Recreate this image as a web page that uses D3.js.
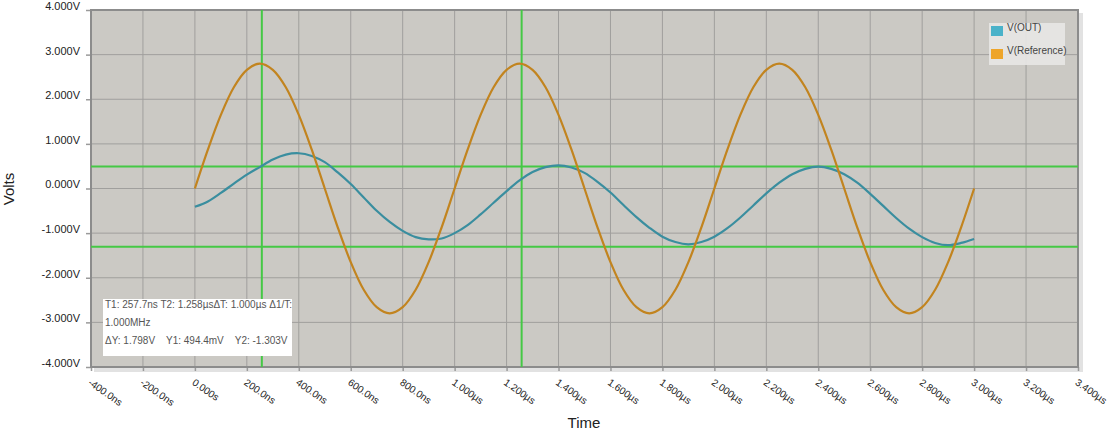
<!DOCTYPE html>
<html>
<head>
<meta charset="utf-8">
<script src="https://cdn.jsdelivr.net/npm/d3@7"></script>
<style>
  html, body { margin: 0; padding: 0; background: #ffffff; }
  svg { display: block; font-family: "Liberation Sans", Arial, sans-serif; }
</style>
</head>
<body>
<svg id="chart" width="1112" height="442"></svg>
<script>
// ---- data (time in ns, voltage in V) ----
const times = [0,50,100,150,200,250,300,350,400,450,500,550,600,650,700,750,800,850,900,950,
  1000,1050,1100,1150,1200,1250,1300,1350,1400,1450,1500,1550,1600,1650,1700,1750,1800,1850,1900,1950,
  2000,2050,2100,2150,2200,2250,2300,2350,2400,2450,2500,2550,2600,2650,2700,2750,2800,2850,2900,2950,3000];
const vOut = [-0.41,-0.29,-0.10,0.11,0.31,0.48,0.65,0.76,0.79,0.73,0.59,0.36,0.10,-0.20,-0.50,-0.75,-0.95,-1.09,-1.14,-1.12,
  -1.00,-0.82,-0.58,-0.32,-0.06,0.18,0.37,0.48,0.52,0.47,0.35,0.15,-0.09,-0.37,-0.64,-0.88,-1.08,-1.20,-1.25,-1.20,
  -1.08,-0.89,-0.65,-0.38,-0.11,0.13,0.32,0.44,0.49,0.44,0.32,0.13,-0.12,-0.39,-0.66,-0.90,-1.09,-1.22,-1.27,-1.22,-1.13];
const vRef = [0.00,0.87,1.65,2.27,2.66,2.80,2.66,2.27,1.65,0.87,0.00,-0.87,-1.65,-2.27,-2.66,-2.80,-2.66,-2.27,-1.65,-0.87,
  0.00,0.87,1.65,2.27,2.66,2.80,2.66,2.27,1.65,0.87,0.00,-0.87,-1.65,-2.27,-2.66,-2.80,-2.66,-2.27,-1.65,-0.87,
  0.00,0.87,1.65,2.27,2.66,2.80,2.66,2.27,1.65,0.87,0.00,-0.87,-1.65,-2.27,-2.66,-2.80,-2.66,-2.27,-1.65,-0.87,0.00];
const seriesNames = ["V(OUT)", "V(Reference)"];
const xTicks = [-400,-200,0,200,400,600,800,1000,1200,1400,1600,1800,2000,2200,2400,2600,2800,3000,3200,3400];
const xTickLabels = ["-400.0ns","-200.0ns","0.000s","200.0ns","400.0ns","600.0ns","800.0ns","1.000µs","1.200µs","1.400µs",
  "1.600µs","1.800µs","2.000µs","2.200µs","2.400µs","2.600µs","2.800µs","3.000µs","3.200µs","3.400µs"];
const yTicks = [-4,-3,-2,-1,0,1,2,3,4];
const yTickLabels = ["-4.000V","-3.000V","-2.000V","-1.000V","0.000V","1.000V","2.000V","3.000V","4.000V"];
const cursorT = [257.7, 1258];
const cursorY = [0.4944, -1.303];
const cursorText = ["T1: 257.7ns T2: 1.258µsΔT: 1.000µs Δ1/T:", "1.000MHz", "ΔY: 1.798V    Y1: 494.4mV    Y2: -1.303V"];

// ---- layout ----
const L = 91, R = 1078, T = 10, B = 367;
const svg = d3.select("#chart");
const x = d3.scaleLinear().domain([-400, 3400]).range([L, R]);
const y = d3.scaleLinear().domain([-4, 4]).range([B, T]);

// shadow + plot background
svg.append("rect").attr("x", L + 3).attr("y", T + 3).attr("width", R - L + 2).attr("height", B - T + 2)
  .attr("fill", "#e2e2e2");
svg.append("rect").attr("x", L).attr("y", T).attr("width", R - L).attr("height", B - T)
  .attr("fill", "#cbc9c4");

// grid
const grid = svg.append("g");
grid.selectAll("line.vx").data(xTicks).join("line")
  .attr("x1", d => x(d)).attr("x2", d => x(d)).attr("y1", T).attr("y2", B)
  .attr("stroke", "#a09f9d").attr("stroke-width", 1);
grid.selectAll("line.hy").data(yTicks).join("line")
  .attr("x1", L).attr("x2", R).attr("y1", d => y(d)).attr("y2", d => y(d))
  .attr("stroke", "#a09f9d").attr("stroke-width", 1);

// axes (ticks + labels)
const yAxis = d3.axisLeft(y).tickValues(yTicks).tickSize(5).tickFormat((d, i) => yTickLabels[i]);
const gy = svg.append("g").attr("transform", `translate(${L},0)`).call(yAxis);
gy.select(".domain").remove();
gy.selectAll(".tick line").attr("stroke", "#9a9a9a").attr("stroke-width", 1.5);
gy.selectAll(".tick text").attr("font-size", 11).attr("fill", "#222").attr("x", -11).attr("dy", "-0.05em")
  .attr("font-family", "'Liberation Sans', Arial, sans-serif");

const xAxis = d3.axisBottom(x).tickValues(xTicks).tickSize(4).tickFormat((d, i) => xTickLabels[i]);
const gx = svg.append("g").attr("transform", `translate(0,${B})`).call(xAxis);
gx.select(".domain").remove();
gx.selectAll(".tick line").attr("stroke", "#9a9a9a").attr("stroke-width", 1.5);
gx.selectAll(".tick text").attr("fill", "#222")
  .attr("text-anchor", "start").attr("x", 0).attr("y", 0).attr("dy", 0)
  .attr("transform", "translate(-4,17) rotate(35)")
  .attr("font-family", "'Liberation Sans', Arial, sans-serif").attr("font-size", 10);

// frame
svg.append("rect").attr("x", L).attr("y", T).attr("width", R - L).attr("height", B - T)
  .attr("fill", "none").attr("stroke", "#8c8c8c").attr("stroke-width", 2);

// cursors
const cur = svg.append("g");
cur.selectAll("line.ct").data(cursorT).join("line")
  .attr("x1", d => x(d)).attr("x2", d => x(d)).attr("y1", T).attr("y2", B)
  .attr("stroke", "#45c845").attr("stroke-width", 2);
cur.selectAll("line.cy").data(cursorY).join("line")
  .attr("x1", L).attr("x2", R).attr("y1", d => y(d)).attr("y2", d => y(d))
  .attr("stroke", "#45c845").attr("stroke-width", 2);

// traces
const line = d3.line().x((d, i) => x(times[i])).y(d => y(d)).curve(d3.curveCatmullRom);
svg.append("path").datum(vOut).attr("d", line).attr("fill", "none")
  .attr("stroke", "#3a8e9f").attr("stroke-width", 2.2);
svg.append("path").datum(vRef).attr("d", line).attr("fill", "none")
  .attr("stroke", "#c2841f").attr("stroke-width", 2.2);

// legend
const lg = svg.append("g");
lg.append("rect").attr("x", 989).attr("y", 23).attr("width", 76).attr("height", 42)
  .attr("fill", "#e8e7e5").attr("opacity", 0.9);
const swatch = ["#4ab2c9", "#eea52a"];
seriesNames.forEach((n, i) => {
  lg.append("rect").attr("x", 991).attr("y", 26 + i * 23).attr("width", 12).attr("height", 10).attr("fill", swatch[i]);
  lg.append("text").attr("x", 1007).attr("y", 31 + i * 23).attr("font-size", 10).attr("fill", "#444").text(n);
});

// cursor info box
const ib = svg.append("g");
ib.append("rect").attr("x", 103).attr("y", 299).attr("width", 189).attr("height", 57).attr("fill", "#ffffff");
cursorText.forEach((t, i) => {
  ib.append("text").attr("x", 105).attr("y", 308 + i * 18).attr("font-size", 10).attr("fill", "#555")
    .attr("xml:space", "preserve").style("white-space", "pre").text(t);
});

// axis titles
svg.append("text").attr("x", 584).attr("y", 428).attr("text-anchor", "middle")
  .attr("font-size", 15).attr("fill", "#222").text("Time");
svg.append("text").attr("transform", "translate(14,189) rotate(-90)").attr("text-anchor", "middle")
  .attr("font-size", 15).attr("fill", "#222").text("Volts");
</script>
</body>
</html>
